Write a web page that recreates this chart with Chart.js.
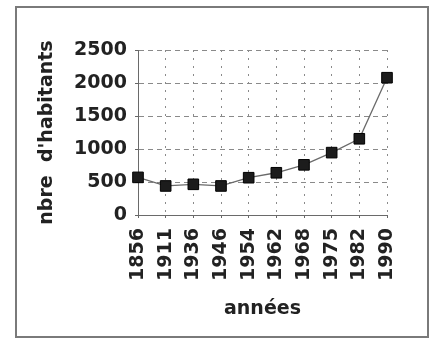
<!DOCTYPE html>
<html>
<head>
<meta charset="utf-8">
<script src="https://cdn.jsdelivr.net/npm/chart.js@4/dist/chart.umd.min.js"></script>
<style>
  html, body { margin: 0; padding: 0; background: #ffffff; }
  #wrap { width: 434px; height: 341px; position: relative; }
</style>
</head>
<body>
<div id="wrap"><canvas id="c" width="434" height="341"></canvas></div>
<script>
// Population de la commune, par année de recensement
const annees = ['1856', '1911', '1936', '1946', '1954', '1962', '1968', '1975', '1982', '1990'];
const habitants = [570, 440, 465, 440, 565, 640, 760, 945, 1155, 2080];
const yTicks = [0, 500, 1000, 1500, 2000, 2500];

const titreY = "nbre  d'habitants";
const titreX = 'années';

const police = { family: '"DejaVu Sans", sans-serif', size: 19, weight: 'bold' };
const texte = '#222222';

// Cadre gris autour du graphique
const cadre = {
  id: 'cadre',
  beforeDraw(chart) {
    const ctx = chart.ctx;
    ctx.save();
    ctx.fillStyle = '#ffffff';
    ctx.fillRect(0, 0, chart.width, chart.height);
    ctx.strokeStyle = '#7a7a7a';
    ctx.lineWidth = 2;
    ctx.strokeRect(16, 7, 412, 330);
    ctx.restore();
  }
};

new Chart(document.getElementById('c'), {
  type: 'line',
  data: {
    labels: annees,
    datasets: [{
      data: habitants,
      borderColor: '#6a6a6a',
      borderWidth: 1.3,
      pointStyle: 'rect',
      pointRadius: 7.5,
      pointHoverRadius: 7.5,
      pointBackgroundColor: '#1c1c1c',
      pointBorderColor: '#000000',
      pointBorderWidth: 1,
      tension: 0,
      fill: false,
      clip: false
    }]
  },
  options: {
    responsive: false,
    animation: false,
    devicePixelRatio: 1,
    layout: { padding: { left: 20, top: 50, right: 47, bottom: 10 } },
    plugins: {
      legend: { display: false },
      tooltip: { enabled: false }
    },
    scales: {
      x: {
        type: 'category',
        offset: false,
        afterFit(scale) { scale.height = 116; },
        grid: {
          offset: false,
          color: '#8a8a8a',
          lineWidth: 1,
          drawTicks: true,
          tickLength: 3,
          tickColor: '#666666',
          tickBorderDash: []
        },
        border: { display: true, color: '#6a6a6a', width: 1, dash: [2, 6] },
        ticks: {
          autoSkip: false,
          minRotation: 90,
          maxRotation: 90,
          padding: 10,
          color: texte,
          font: police
        },
        title: {
          display: true,
          text: titreX,
          color: texte,
          font: police,
          padding: { top: 0, bottom: 11 }
        }
      },
      y: {
        min: 0,
        max: 2500,
        afterFit(scale) { scale.width = 118; },
        afterBuildTicks(scale) { scale.ticks = yTicks.map(v => ({ value: v })); },
        grid: {
          color: '#8a8a8a',
          lineWidth: 1,
          drawTicks: true,
          tickLength: 3,
          tickColor: '#666666',
          tickBorderDash: []
        },
        border: { display: true, color: '#6a6a6a', width: 1, dash: [5, 4] },
        ticks: {
          padding: 8,
          color: texte,
          font: police,
          callback: (v) => String(v)
        },
        title: {
          display: true,
          text: titreY,
          color: texte,
          font: police,
          padding: { top: 16, bottom: 0 }
        }
      }
    }
  },
  plugins: [cadre]
});
</script>
</body>
</html>
